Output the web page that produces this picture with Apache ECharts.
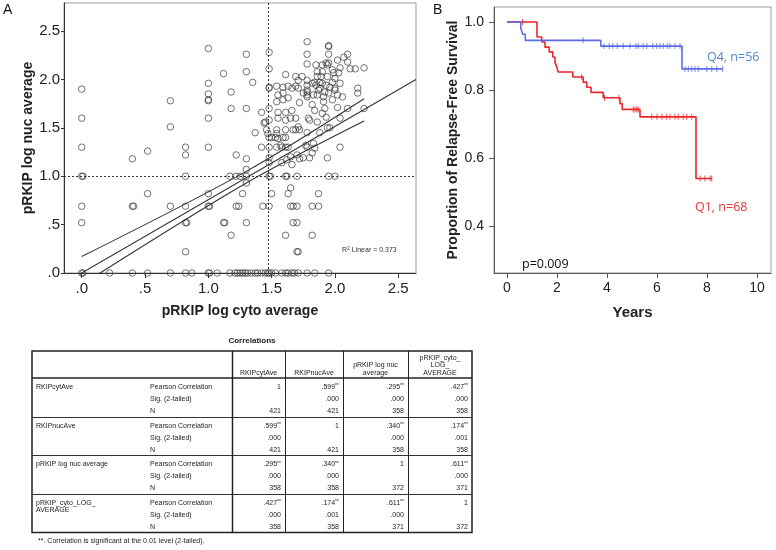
<!DOCTYPE html>
<html>
<head>
<meta charset="utf-8">
<script src="https://cdn.jsdelivr.net/npm/echarts@6/dist/echarts.min.js"></script>
<style>
html,body{margin:0;padding:0;background:#fff;}
#chart{width:776px;height:550px;}
</style>
</head>
<body>
<div id="chart"></div>
<script>
// ---------- Panel A: scatter data (pRKIP log cyto average, pRKIP log nuc average) ----------
const scatterPoints = [
  // y = 0 row
  [0,0],[0.01,0],[0.22,0],[0.40,0],[0.52,0],[0.70,0],[0.82,0],[0.87,0],[1.0,0],[1.01,0],[1.07,0],[1.17,0],[1.21,0],[1.23,0],[1.25,0],[1.27,0],[1.29,0],[1.31,0],[1.34,0],[1.37,0],[1.39,0],[1.42,0],[1.45,0],[1.47,0],[1.48,0],[1.50,0],[1.53,0],[1.58,0],[1.61,0],[1.63,0],[1.66,0],[1.68,0],[1.71,0],[1.78,0],[1.84,0],[1.95,0],
  [0.82,0.22],[1.70,0.22],[1.71,0.22],
  [1.18,0.39],[1.61,0.39],[1.82,0.39],
  [0,0.52],[0.82,0.52],[0.83,0.52],[1.12,0.52],[1.13,0.52],[1.30,0.52],[1.67,0.52],[1.70,0.52],
  [0,0.69],[0.40,0.69],[0.41,0.69],[0.70,0.69],[0.82,0.69],[1.0,0.69],[1.01,0.69],[1.22,0.69],[1.24,0.69],[1.43,0.69],[1.48,0.69],[1.65,0.69],[1.67,0.69],[1.70,0.69],[1.82,0.69],[1.87,0.69],
  [0.52,0.82],[1.0,0.82],[1.27,0.82],[1.50,0.82],[1.63,0.82],[1.87,0.82],[1.65,0.88],[1.30,0.93],
  [0,1.0],[0.01,1.0],[0.82,1.0],[1.17,1.0],[1.22,1.0],[1.25,1.0],[1.30,1.0],[1.48,1.0],[1.49,1.0],[1.61,1.0],[1.62,1.0],[1.70,1.0],[1.95,1.0],[2.0,1.0],
  [1.30,1.07],[1.48,1.14],[1.58,1.14],[1.66,1.12],
  [0.40,1.18],[1.30,1.18],[0.82,1.22],[1.22,1.22],[1.48,1.19],[1.62,1.17],[1.65,1.20],[1.70,1.22],[1.72,1.18],[1.75,1.19],[1.80,1.19],[1.82,1.24],[1.94,1.19],
  [0.52,1.26],[0,1.30],[0.82,1.30],[1.0,1.30],[1.42,1.30],[1.48,1.30],[1.54,1.30],[1.58,1.30],[1.61,1.30],[1.63,1.30],[1.78,1.30],[2.04,1.30],[1.84,1.29],[1.83,1.34],[1.77,1.32],[1.57,1.32],
  [1.37,1.45],[1.48,1.40],[1.47,1.44],[1.50,1.40],[1.54,1.44],[1.61,1.40],[1.54,1.48],[1.61,1.48],[1.46,1.48],[1.55,1.39],[1.53,1.40],[1.59,1.40],[1.67,1.48],[1.71,1.51],[1.72,1.48],[1.69,1.48],[1.78,1.45],[1.88,1.45],[1.94,1.50],[1.96,1.50],[0.70,1.51],
  [0,1.60],[1.0,1.60],[1.18,1.70],[1.30,1.70],[1.48,1.70],[1.48,1.58],[1.42,1.66],[1.45,1.56],[1.44,1.55],[1.55,1.66],[1.61,1.66],[1.66,1.68],[1.65,1.60],[1.61,1.58],[1.55,1.60],[1.69,1.60],[1.79,1.60],[1.80,1.58],[1.86,1.56],[1.93,1.61],[1.90,1.65],[1.84,1.68],[2.04,1.60],[2.10,1.70],[2.23,1.70],[1.92,1.70],[2.02,1.71],
  [0.70,1.78],[1.0,1.78],[1.0,1.79],[1.54,1.77],[1.59,1.79],[1.63,1.81],[1.72,1.76],[1.82,1.74],[1.91,1.77],[1.98,1.79],[1.78,1.82],[2.06,1.82],[1.91,1.82],
  [0,1.90],[1.0,1.85],[1.18,1.87],[1.48,1.91],[1.48,1.92],[1.54,1.93],[1.59,1.92],[1.63,1.93],[1.66,1.91],[1.69,1.93],[1.71,1.91],[1.75,1.86],[1.78,1.87],[1.83,1.84],[1.59,1.86],[1.55,1.84],[1.86,1.84],[1.92,1.87],[1.95,1.86],[2.0,1.89],[2.02,1.84],[2.0,1.91],[2.18,1.91],[2.18,1.86],[1.78,1.89],[1.78,1.84],[1.87,1.89],[1.96,1.92],[1.88,1.91],
  [1.0,1.96],[1.35,1.97],[1.78,1.99],[1.78,1.94],[1.82,1.96],[1.85,1.94],[1.90,1.96],[1.93,1.94],[2.04,1.96],[1.98,1.97],[1.88,1.97],[1.84,1.97],[1.71,1.99],
  [1.12,2.06],[1.30,2.08],[1.48,2.11],[1.74,2.03],[1.69,2.03],[1.61,2.05],[1.86,2.08],[1.90,2.08],[1.86,2.03],[1.89,2.03],[1.94,2.03],[2.03,2.07],[2.0,2.01],[1.98,2.10],[1.99,2.07],[2.04,2.12],[2.12,2.11],[2.16,2.11],[2.23,2.12],
  [1.78,2.16],[1.85,2.15],[1.90,2.15],[1.93,2.17],[1.94,2.15],[1.95,2.17],[2.02,2.20],[2.07,2.23],[2.10,2.26],[2.10,2.18],[1.30,2.26],[1.78,2.26],[1.95,2.26],
  [1.0,2.32],[1.48,2.28],[1.78,2.39],[1.95,2.34],[1.95,2.35]
];
const fitLine   = [[-0.04,-0.03],[2.64,2.0]];
const upperBand = [[0,0.17],[1.3,1.05],[2.23,1.80]];
const lowerBand = [[0,-0.12],[1.3,0.93],[2.23,1.57]];
const cytoCutoff = 1.47;
const nucCutoff = 1.0;
const scatterTicks = [0,0.5,1,1.5,2,2.5];
const r2Text = '0.373';

// ---------- Panel B: Kaplan-Meier ----------
const kmXTicks = [0,2,4,6,8,10];
const kmYTicks = [0.4,0.6,0.8,1.0];
const q4Steps = [[0,1],[0.55,0.982],[0.63,0.964],[0.73,0.946],[3.75,0.929],[7.0,0.862],[8.63,0.862]];
const q4Censor = [3.04,3.88,4.09,4.23,4.41,4.65,4.92,5.16,5.25,5.45,5.59,5.83,5.99,6.12,6.25,6.41,6.52,6.72,6.92,7.12,7.25,7.39,7.52,7.65,7.99,8.19,8.39,8.63];
const q1Steps = [[0,1],[1.2,0.956],[1.39,0.941],[1.52,0.926],[1.69,0.912],[1.83,0.897],[1.92,0.882],[1.99,0.868],[2.05,0.853],[2.63,0.838],[3.05,0.823],[3.19,0.808],[3.36,0.793],[3.85,0.777],[4.52,0.760],[4.61,0.743],[5.32,0.721],[7.56,0.540],[8.19,0.540]];
const q1Censor = [0.62,2.99,3.9,4.48,5.05,5.12,5.19,5.25,5.79,6.0,6.2,6.39,6.52,6.72,6.85,7.05,7.19,7.39,7.72,7.92,8.12,8.19];

// ---------- Table ----------
const tableTitle = 'Correlations';
const tableColHeaders = ['RKIPcytAve','RKIPnucAve','pRKIP log nuc\naverage','pRKIP_cyto_\nLOG_\nAVERAGE'];
const tableRowLabels = ['RKIPcytAve','RKIPnucAve','pRKIP log nuc average','pRKIP_cyto_LOG_\nAVERAGE'];
const tableStatLabels = ['Pearson Correlation','Sig. (2-tailed)','N'];
const pearsonVals = [['1','.599**','.295**','.427**'],['.599**','1','.340**','.174**'],['.295**','.340**','1','.611**'],['.427**','.174**','.611**','1']];
const sigVals = [['','.000','.000','.000'],['.000','','.000','.001'],['.000','.000','','.000'],['.000','.001','.000','']];
const nVals = [['421','421','358','358'],['421','421','358','358'],['358','358','372','371'],['358','358','371','372']];
const tableFootnote = '**. Correlation is significant at the 0.01 level (2-tailed).';

const FONT = 'Liberation Sans, Arial, sans-serif';
const chart = echarts.init(document.getElementById('chart'), null, {renderer:'canvas'});

function survAt(steps, t){
  let s = steps[0][1];
  for (const p of steps){ if (p[0] <= t) s = p[1]; }
  return s;
}
const fmtDot = v => { const s = v.toFixed(1); return s.startsWith('0') ? s.slice(1) : s; };

// table graphics
const tbl = {left:32, right:472, top:351, head:378, gh:38.6, cols:[232,285,343,408,472]};
const tblBottom = tbl.head + tbl.gh*4;
const g = [];
function txt(x,y,text,opt){
  g.push(Object.assign({type:'text', x:x, y:y, silent:true, style:Object.assign({text:text, fontFamily:FONT, fontSize:7, fill:'#222', align:'left', verticalAlign:'middle'}, opt||{})}));
}
function valText(x,y,v){
  if (v.indexOf('**')>=0){
    g.push({type:'text', x:x, y:y, silent:true, style:{text:'{n|'+v.replace('**','')+'}{s|**}', align:'right', verticalAlign:'middle', rich:{n:{fontFamily:FONT,fontSize:7,fill:'#222'}, s:{fontFamily:FONT,fontSize:5,fill:'#222',verticalAlign:'top'}}}});
  } else {
    txt(x,y,v,{align:'right'});
  }
}
g.push({type:'rect', silent:true, shape:{x:tbl.left,y:tbl.top,width:tbl.right-tbl.left,height:tblBottom-tbl.top}, style:{fill:'none',stroke:'#222',lineWidth:1.5}});
g.push({type:'line', silent:true, shape:{x1:tbl.left,y1:tbl.head,x2:tbl.right,y2:tbl.head}, style:{stroke:'#222',lineWidth:1.5}});
for (let i=1;i<4;i++){
  const y = Math.round(tbl.head + tbl.gh*i)+0.5;
  g.push({type:'line', silent:true, shape:{x1:tbl.left,y1:y,x2:tbl.right,y2:y}, style:{stroke:'#333',lineWidth:1}});
}
for (let i=0;i<4;i++){
  g.push({type:'line', silent:true, shape:{x1:tbl.cols[i]+0.5,y1:tbl.top,x2:tbl.cols[i]+0.5,y2:tblBottom}, style:{stroke:'#222',lineWidth:i===0?1.5:1}});
}
txt((tbl.left+tbl.right)/2, 341, tableTitle, {align:'center', fontWeight:'bold', fontSize:8});
for (let c=0;c<4;c++){
  g.push({type:'text', x:(tbl.cols[c]+tbl.cols[c+1])/2, y:tbl.head-1.5, silent:true, style:{text:tableColHeaders[c], fontFamily:FONT, fontSize:7, lineHeight:7.5, fill:'#222', align:'center', verticalAlign:'bottom'}});
}
for (let r=0;r<4;r++){
  const gt = tbl.head + tbl.gh*r;
  const rows = [gt+9, gt+21, gt+33];
  g.push({type:'text', x:36, y:rows[0]-3.5, silent:true, style:{text:tableRowLabels[r], fontFamily:FONT, fontSize:7, lineHeight:7, fill:'#222', align:'left', verticalAlign:'top'}});
  for (let k=0;k<3;k++) txt(150, rows[k], tableStatLabels[k]);
  for (let c=0;c<4;c++){
    const xr = tbl.cols[c+1]-4;
    valText(xr, rows[0], pearsonVals[r][c]);
    if (sigVals[r][c]) valText(xr, rows[1], sigVals[r][c]);
    valText(xr, rows[2], nVals[r][c]);
  }
}
txt(38, 541, tableFootnote);

// panel letters and annotations
g.push({type:'text', x:3, y:3, silent:true, style:{text:'A', fontFamily:FONT, fontSize:14, fill:'#111'}});
g.push({type:'text', x:433, y:3, silent:true, style:{text:'B', fontFamily:FONT, fontSize:14, fill:'#111'}});
g.push({type:'text', x:342, y:250, silent:true, style:{text:'R{s|2} Linear = '+r2Text, verticalAlign:'middle', fontFamily:FONT, fontSize:7, fill:'#333', rich:{s:{fontFamily:FONT,fontSize:5,fill:'#333',verticalAlign:'top'}}}});
g.push({type:'text', x:707, y:57, silent:true, style:{text:'Q4, n=56', fontFamily:'Open Sans, Noto Sans, sans-serif', fontSize:12.5, fill:'#4f86c8', verticalAlign:'middle'}});
g.push({type:'text', x:695, y:207, silent:true, style:{text:'Q1, n=68', fontFamily:'Open Sans, Noto Sans, sans-serif', fontSize:12.5, fill:'#e8363a', verticalAlign:'middle'}});
g.push({type:'text', x:522, y:264, silent:true, style:{text:'p=0.009', fontFamily:'Open Sans, Noto Sans, sans-serif', fontSize:12.5, fill:'#111', verticalAlign:'middle'}});

const labelStyle = {fontFamily:FONT, color:'#222'};
const nameStyle = {fontFamily:FONT, fontWeight:'bold', color:'#222'};

const option = {
  animation:false,
  backgroundColor:'#fff',
  grid:[
    {left:64, top:3, width:352, height:270, show:true, borderColor:'#999', borderWidth:1, backgroundColor:'transparent', containLabel:false, outerBoundsMode:'none'},
    {left:494, top:7, width:277, height:266, show:true, borderColor:'#999', borderWidth:1, backgroundColor:'transparent', containLabel:false, outerBoundsMode:'none'}
  ],
  xAxis:[
    {type:'value', gridIndex:0, min:-0.14, max:2.64, name:'pRKIP log cyto average', nameLocation:'middle', nameGap:31,
     nameTextStyle:Object.assign({fontSize:14}, nameStyle),
     axisLine:{show:true, onZero:false, lineStyle:{color:'#333', width:1}},
     axisTick:{show:true, length:5, customValues:scatterTicks, lineStyle:{color:'#333'}},
     axisLabel:Object.assign({fontSize:15, margin:8, customValues:scatterTicks, formatter:fmtDot}, labelStyle),
     splitLine:{show:false}},
    {type:'value', gridIndex:1, min:-0.52, max:10.56, name:'Years', nameLocation:'middle', nameGap:32,
     nameTextStyle:Object.assign({fontSize:15}, nameStyle),
     axisLine:{show:true, onZero:false, lineStyle:{color:'#555', width:1}},
     axisTick:{show:true, length:5, customValues:kmXTicks, lineStyle:{color:'#555'}},
     axisLabel:Object.assign({fontSize:14, margin:8, customValues:kmXTicks, formatter:v=>String(v)}, labelStyle),
     splitLine:{show:false}}
  ],
  yAxis:[
    {type:'value', gridIndex:0, min:0, max:2.79, name:'pRKIP log nuc average', nameLocation:'middle', nameGap:25,
     nameTextStyle:Object.assign({fontSize:14}, nameStyle),
     axisLine:{show:true, onZero:false, lineStyle:{color:'#333', width:1}},
     axisTick:{show:true, length:3, customValues:scatterTicks, lineStyle:{color:'#333'}},
     axisLabel:Object.assign({fontSize:15, margin:4, customValues:scatterTicks, formatter:fmtDot}, labelStyle),
     splitLine:{show:false}},
    {type:'value', gridIndex:1, min:0.262, max:1.044, name:'Proportion of Relapse-Free Survival', nameLocation:'middle', nameGap:30,
     nameTextStyle:Object.assign({fontSize:14}, nameStyle),
     axisLine:{show:true, onZero:false, lineStyle:{color:'#555', width:1}},
     axisTick:{show:true, length:5, customValues:kmYTicks, lineStyle:{color:'#555'}},
     axisLabel:Object.assign({fontSize:14, margin:10, customValues:kmYTicks, formatter:v=>v.toFixed(1)}, labelStyle),
     splitLine:{show:false}}
  ],
  series:[
    {type:'scatter', xAxisIndex:0, yAxisIndex:0, data:scatterPoints, symbol:'circle', symbolSize:6.5, clip:false,
     itemStyle:{color:'rgba(255,255,255,0)', borderColor:'#3a3a3a', borderWidth:0.9},
     markLine:{silent:true, symbol:'none', label:{show:false}, animation:false,
       lineStyle:{type:[2,2], color:'#333', width:1},
       data:[{xAxis:cytoCutoff},{yAxis:nucCutoff}]}},
    {type:'line', xAxisIndex:0, yAxisIndex:0, data:fitLine, showSymbol:false, clip:true, lineStyle:{color:'#333', width:1.1}},
    {type:'line', xAxisIndex:0, yAxisIndex:0, data:upperBand, showSymbol:false, clip:true, smooth:0.3, lineStyle:{color:'#333', width:1.1}},
    {type:'line', xAxisIndex:0, yAxisIndex:0, data:lowerBand, showSymbol:false, clip:true, smooth:0.3, lineStyle:{color:'#333', width:1.1}},
    {type:'line', xAxisIndex:1, yAxisIndex:1, data:q1Steps, step:'end', showSymbol:false, lineStyle:{color:'#e8262b', width:1.6}},
    {type:'scatter', xAxisIndex:1, yAxisIndex:1, data:q1Censor.map(t=>[t, survAt(q1Steps,t)]), symbol:'rect', symbolSize:[1,6], itemStyle:{color:'#e8262b'}},
    {type:'line', xAxisIndex:1, yAxisIndex:1, data:q4Steps, step:'end', showSymbol:false, lineStyle:{color:'#5d6ae6', width:1.6}},
    {type:'scatter', xAxisIndex:1, yAxisIndex:1, data:q4Censor.map(t=>[t, survAt(q4Steps,t)]), symbol:'rect', symbolSize:[1,6], itemStyle:{color:'#5d6ae6'}}
  ],
  graphic:g
};
chart.setOption(option);
</script>
</body>
</html>
